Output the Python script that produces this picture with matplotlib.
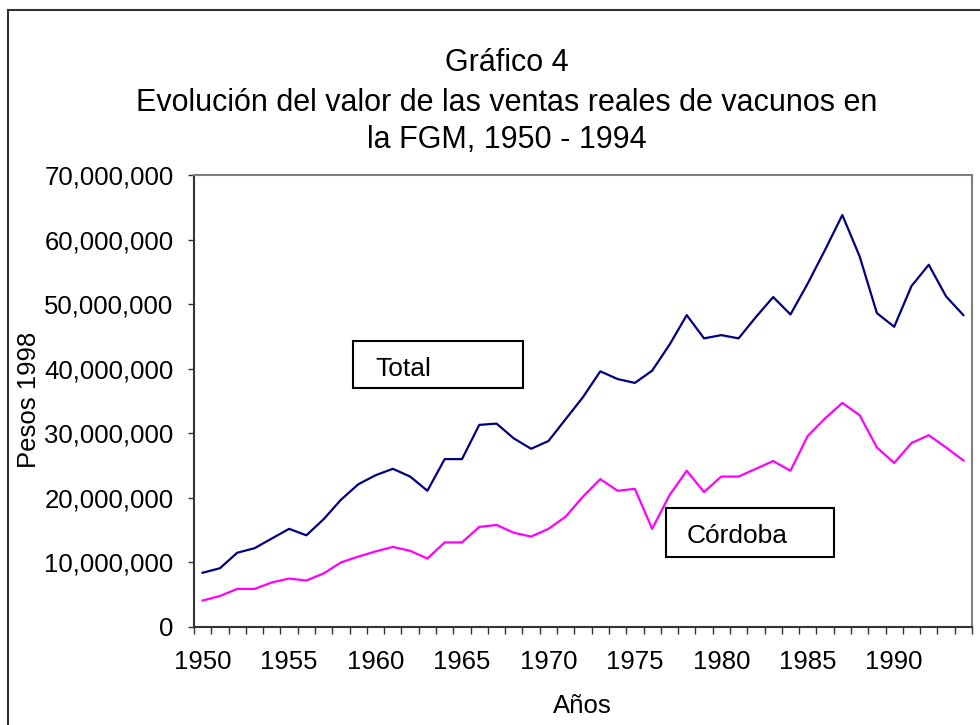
import matplotlib
matplotlib.use('Agg')
import matplotlib.pyplot as plt
from matplotlib.patches import Rectangle
from matplotlib.lines import Line2D
from matplotlib.ticker import FuncFormatter, FixedLocator
import numpy as np

plt.rcParams['font.family'] = ['Liberation Sans', 'DejaVu Sans']

# Data (pesos 1998)
years = list(range(1950, 1995))
total = [8.4, 9.1, 11.5, 12.2, 13.7, 15.2, 14.2, 16.7, 19.7, 22.1,
         23.5, 24.5, 23.3, 21.1, 26.0, 26.0, 31.3, 31.5, 29.2, 27.6,
         28.8, 32.2, 35.6, 39.6, 38.4, 37.8, 39.7, 43.7, 48.3, 44.7,
         45.2, 44.7, 48.0, 51.1, 48.4, 53.2, 58.4, 63.8, 57.4, 48.6,
         46.5, 52.8, 56.1, 51.2, 48.3]
cordoba = [4.1, 4.8, 5.9, 5.9, 6.9, 7.5, 7.2, 8.3, 10.0, 10.9,
           11.7, 12.4, 11.8, 10.6, 13.1, 13.1, 15.5, 15.8, 14.6, 14.0,
           15.2, 17.1, 20.2, 22.9, 21.1, 21.4, 15.2, 20.4, 24.2, 20.9,
           23.3, 23.3, 24.5, 25.7, 24.2, 29.6, 32.3, 34.7, 32.8, 27.8,
           25.4, 28.5, 29.7, 27.8, 25.8]
total = np.array(total) * 1e6
cordoba = np.array(cordoba) * 1e6
year_labels = [1950, 1955, 1960, 1965, 1970, 1975, 1980, 1985, 1990]

W, H = 980, 725
fig = plt.figure(figsize=(9.8, 7.25), dpi=100)
ax = fig.add_axes([194 / W, 1 - 627 / H, (972 - 194) / W, (627 - 175) / H])

ax.plot(years, total, color='#000080', lw=1.6)
ax.plot(years, cordoba, color='#FF00FF', lw=1.6)

ax.set_xlim(1949.5, 1994.5)
ax.set_ylim(0, 70e6)
ax.set_yticks(np.arange(0, 70e6 + 1, 10e6))
ax.yaxis.set_major_formatter(FuncFormatter(lambda v, p: f'{int(v):,}'))
ax.set_xticks(year_labels)
ax.xaxis.set_minor_locator(FixedLocator(np.arange(1949.5, 1995, 1)))
ax.tick_params(axis='x', which='major', length=0, pad=16.5, labelsize=18.5)
ax.tick_params(axis='x', which='minor', length=5, width=1, color='#333333')
ax.tick_params(axis='y', length=4.3, width=1, color='#333333', labelsize=18.5, pad=10.5)

for s in ['top', 'right']:
    ax.spines[s].set_color('#808080')
    ax.spines[s].set_linewidth(1.5)
for s in ['left', 'bottom']:
    ax.spines[s].set_color('#333333')
    ax.spines[s].set_linewidth(1.5)

# titles and axis labels
title_lines = ['Gráfico 4',
               'Evolución del valor de las ventas reales de vacunos en',
               'la FGM, 1950 - 1994']
for line, base in zip(title_lines, [71, 111, 148]):
    fig.text(507 / W, 1 - base / H, line, ha='center', va='baseline', fontsize=22)
fig.text(29 / W, 1 - 400 / H, 'Pesos 1998', rotation=90, ha='center', va='center', fontsize=18.5)
fig.text(582 / W, 1 - 713 / H, 'Años', ha='center', va='baseline', fontsize=18.5)

# series label boxes
for (x0, y0, x1, y1, tx, ty, label) in [(353, 341, 523, 388, 375, 376, 'Total'),
                                        (666, 508, 834, 557, 687, 543, 'Córdoba')]:
    fig.patches.append(Rectangle((x0 / W, 1 - y1 / H), (x1 - x0) / W, (y1 - y0) / H,
                                 transform=fig.transFigure, fill=False,
                                 edgecolor='black', lw=1.5))
    fig.text(tx / W, 1 - ty / H, label, ha='left', va='baseline', fontsize=19)

# outer chart frame (left and top edges visible)
fig.add_artist(Line2D([8 / W, 8 / W], [0, 1 - 10 / H], transform=fig.transFigure,
                      color='#333333', lw=1.5))
fig.add_artist(Line2D([8 / W, 1], [1 - 10 / H, 1 - 10 / H], transform=fig.transFigure,
                      color='#333333', lw=1.5))

fig.savefig('out.png', dpi=100)
